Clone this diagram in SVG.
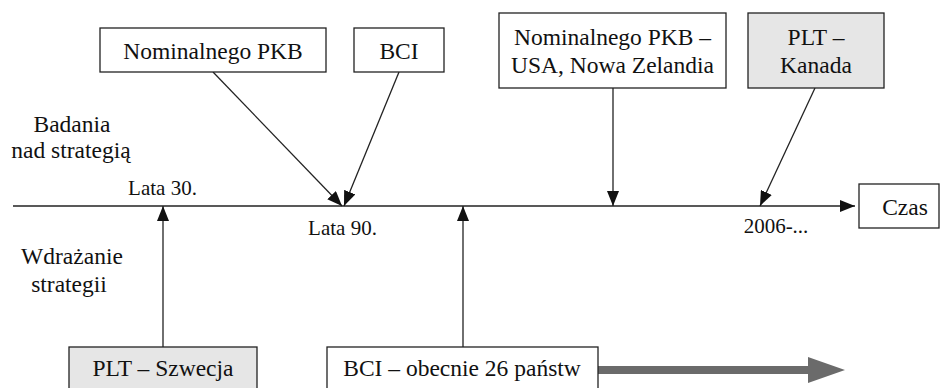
<svg xmlns="http://www.w3.org/2000/svg" width="941" height="388" viewBox="0 0 941 388">
<style>
.box{fill:#fff;stroke:#222;stroke-width:1.3}
.grey{fill:#e6e6e6}
text{font-family:'Liberation Serif','Times New Roman',serif;fill:#111;text-anchor:middle}
.t{font-size:23.5px}
.s{font-size:21px}
.c{stroke:#222;stroke-width:1.3;fill:none}
</style>
<defs>
<marker id="ah" markerUnits="userSpaceOnUse" markerWidth="16" markerHeight="12" refX="15" refY="6" orient="auto">
<path d="M0,0 L15,6 L0,12 Z" fill="#111"/>
</marker>
</defs>
<g id="connectors">
<line class="c" x1="13" y1="206" x2="855" y2="206" marker-end="url(#ah)"/>
<line class="c" x1="213" y1="72" x2="342" y2="206" marker-end="url(#ah)"/>
<line class="c" x1="399" y1="72" x2="344" y2="206" marker-end="url(#ah)"/>
<line class="c" x1="613" y1="88" x2="613" y2="206" marker-end="url(#ah)"/>
<line class="c" x1="815" y1="88" x2="760" y2="206" marker-end="url(#ah)"/>
<line class="c" x1="163" y1="347" x2="163" y2="206" marker-end="url(#ah)"/>
<line class="c" x1="463" y1="347" x2="463" y2="206" marker-end="url(#ah)"/>
<polygon points="598,366 808,366 808,357 845,370 808,383 808,374 598,374" fill="#6b6b6b"/>
</g>
<g id="n-nominal">
<rect class="box" x="100" y="28" width="226" height="44"/>
<text class="t" x="213" y="59">Nominalnego PKB</text>
</g>
<g id="n-bci-top">
<rect class="box" x="354" y="28" width="90" height="44"/>
<text class="t" x="399" y="59">BCI</text>
</g>
<g id="n-nominal-usa">
<rect class="box" x="499" y="13" width="227" height="75"/>
<text class="t" x="612.5" y="45">Nominalnego PKB –</text>
<text class="t" x="612.5" y="73">USA, Nowa Zelandia</text>
</g>
<g id="n-plt-kanada">
<rect class="box grey" x="748" y="13" width="136" height="75"/>
<text class="t" x="816" y="45">PLT –</text>
<text class="t" x="816" y="73">Kanada</text>
</g>
<g id="n-czas">
<rect class="box" x="859" y="184" width="80" height="44"/>
<text class="t" x="905" y="215">Czas</text>
</g>
<g id="n-plt-szwecja">
<rect class="box grey" x="69" y="347" width="188" height="50"/>
<text class="t" x="163" y="376">PLT – Szwecja</text>
</g>
<g id="n-bci-bottom">
<rect class="box" x="327" y="347" width="271" height="50"/>
<text class="t" x="462" y="376">BCI – obecnie 26 państw</text>
</g>
<g id="labels">
<text class="t" x="72" y="132">Badania</text>
<text class="t" x="71" y="158">nad strategią</text>
<text class="t" x="72" y="264">Wdrażanie</text>
<text class="t" x="69" y="292">strategii</text>
<text class="s" x="162.5" y="195">Lata 30.</text>
<text class="s" x="342.5" y="235">Lata 90.</text>
<text class="s" x="776" y="233">2006-...</text>
</g>
</svg>
